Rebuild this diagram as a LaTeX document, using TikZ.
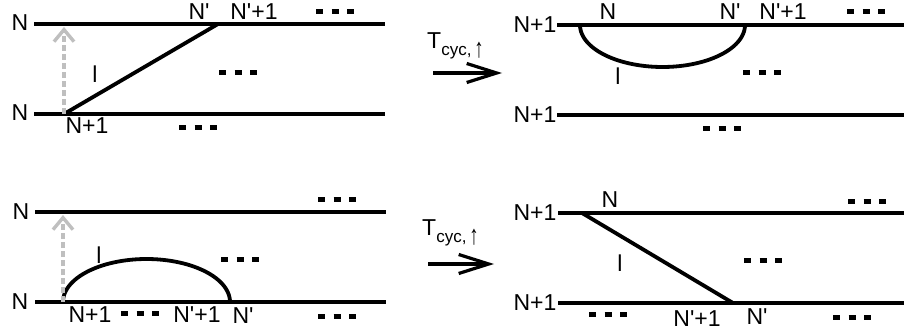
\documentclass[tikz,border=0pt]{standalone}
\usepackage{fontspec}
\setmainfont{Liberation Sans}
\usetikzlibrary{arrows.meta}
\newcommand\tridots{\rule{7pt}{5pt}\hspace{8.5pt}\rule{7pt}{5pt}\hspace{8.5pt}\rule{7pt}{5pt}}
\newcommand\tcyc{T\raisebox{-7pt}{\fontsize{17}{17}\selectfont cyc,\,\raisebox{-2pt}{\scalebox{1.1}[1.6]{↑}}}}
\newcommand\Np{N\textquotesingle}
\begin{document}
\begin{tikzpicture}[x=1pt,y=-1pt,
  lbl/.style={font=\fontsize{23}{23}\selectfont, inner sep=0pt},
  tdots/.style={inner sep=0pt, font=\fontsize{20}{20}\selectfont},
  track/.style={line width=4pt},
  strand/.style={line width=3.8pt},
  shiftarr/.style={gray!50, line width=3.4pt, dash pattern=on 6pt off 3pt,
    -{Straight Barb[length=12pt,width=20pt,line width=3.4pt]}},
  trans/.style={line width=4pt, -{Straight Barb[length=30pt,width=19pt,line width=3.2pt]}}]
\useasboundingbox (0,0) rectangle (904,334);

% ---------------- panel 1 (top left) ----------------
\coordinate (a1) at (34,24);  \coordinate (a2) at (385,24);
\coordinate (b1) at (34,114); \coordinate (b2) at (385,114);
\coordinate (aS) at (64,114); \coordinate (aE) at (218,24);
\coordinate (aG) at (64,27);
\draw[track] (a1) -- (a2);
\draw[track] (b1) -- (b2);
\draw[strand] (aS) -- (aE);
\draw[shiftarr] (aS) -- (aG);
\node[lbl] (p1nt) at (20,23) {N};
\node[lbl] (p1nb) at (20,113) {N};
\node[lbl] (p1np) at (199,12) {\Np};
\node[lbl] (p1npp) at (254,12) {\Np+1};
\node[tdots] (p1d1) at (335,12) {\tridots};
\node[lbl] (p1l) at (95,74) {l};
\node[tdots] (p1d2) at (238,73) {\tridots};
\node[lbl] (p1n1) at (87,126) {N+1};
\node[tdots] (p1d3) at (198,128) {\tridots};

% transformation arrow 1
\coordinate (t1s) at (433,73); \coordinate (t1e) at (502,73);
\draw[trans] (t1s) -- (t1e);
\node[lbl, anchor=west] (t1) at (427,46) {\tcyc};

% ---------------- panel 2 (top right) ----------------
\coordinate (c1) at (557,25);  \coordinate (c2) at (904,25);
\coordinate (d1) at (557,115); \coordinate (d2) at (904,115);
\draw[track] (c1) -- (c2);
\draw[track] (d1) -- (d2);
\draw[strand] plot[domain=0:180, samples=60] ({662.5-82.5*cos(\x)},{25+42*sin(\x)});
\node[lbl] (p2nt) at (535,25) {N+1};
\node[lbl] (p2nb) at (535,115) {N+1};
\node[lbl] (p2n) at (608,12) {N};
\node[lbl] (p2np) at (730,12) {\Np};
\node[lbl] (p2npp) at (783,12) {\Np+1};
\node[tdots] (p2d1) at (866,12) {\tridots};
\node[lbl] (p2l) at (618,76) {l};
\node[tdots] (p2d2) at (762,73) {\tridots};
\node[tdots] (p2d3) at (722,129) {\tridots};

% ---------------- panel 3 (bottom left) ----------------
\coordinate (e1) at (35,212);  \coordinate (e2) at (386,212);
\coordinate (f1) at (35,302);  \coordinate (f2) at (386,302);
\coordinate (eS) at (63,302);  \coordinate (eG) at (63,215);
\draw[track] (e1) -- (e2);
\draw[track] (f1) -- (f2);
\draw[strand] plot[domain=0:180, samples=60] ({146.5-83.5*cos(\x)},{302-43*sin(\x)});
\draw[shiftarr] (eS) -- (eG);
\node[lbl] (p3nt) at (21,212) {N};
\node[lbl] (p3nb) at (20,302) {N};
\node[tdots] (p3d1) at (337,199) {\tridots};
\node[lbl] (p3l) at (99,255) {l};
\node[tdots] (p3d2) at (240,259) {\tridots};
\node[lbl] (p3n1) at (90,315) {N+1};
\node[tdots] (p3d3) at (140,313) {\tridots};
\node[lbl] (p3npp) at (197,315) {\Np+1};
\node[lbl] (p3np) at (243,316) {\Np};
\node[tdots] (p3d4) at (337,316) {\tridots};

% transformation arrow 2
\coordinate (t2s) at (428,264); \coordinate (t2e) at (494,264);
\draw[trans] (t2s) -- (t2e);
\node[lbl, anchor=west] (t2) at (422,233) {\tcyc};

% ---------------- panel 4 (bottom right) ----------------
\coordinate (g1) at (558,213); \coordinate (g2) at (904,213);
\coordinate (h1) at (558,303); \coordinate (h2) at (904,303);
\coordinate (gS) at (582,213); \coordinate (hE) at (733,303);
\draw[track] (g1) -- (g2);
\draw[track] (h1) -- (h2);
\draw[strand] (gS) -- (hE);
\node[lbl] (p4nt) at (535,213) {N+1};
\node[lbl] (p4nb) at (535,303) {N+1};
\node[lbl] (p4n) at (610,200) {N};
\node[tdots] (p4d1) at (867,201) {\tridots};
\node[lbl] (p4l) at (620,263) {l};
\node[tdots] (p4d2) at (763,260) {\tridots};
\node[tdots] (p4d3) at (608,314) {\tridots};
\node[lbl] (p4npp) at (697,319) {\Np+1};
\node[lbl] (p4np) at (757,317) {\Np};
\node[tdots] (p4d4) at (852,317) {\tridots};
\end{tikzpicture}
\end{document}
